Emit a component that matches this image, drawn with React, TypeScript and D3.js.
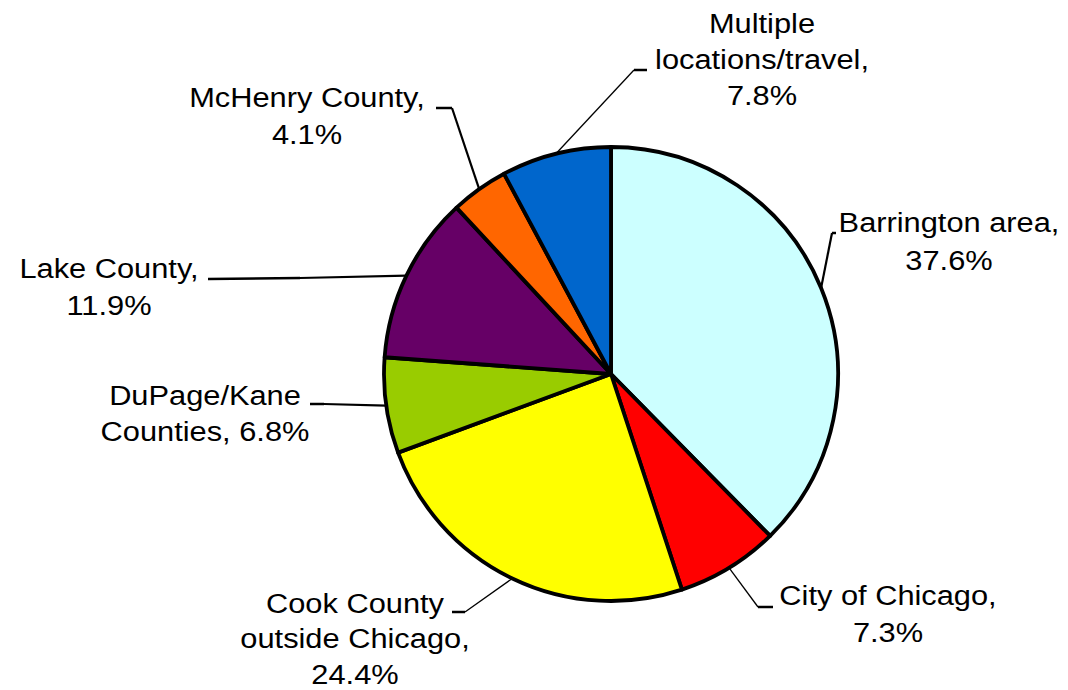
import React from "react";
import * as d3 from "d3";

const categories = [
  "Barrington area",
  "City of Chicago",
  "Cook County outside Chicago",
  "DuPage/Kane Counties",
  "Lake County",
  "McHenry County",
  "Multiple locations/travel",
];
const values = [37.6, 7.3, 24.4, 6.8, 11.9, 4.1, 7.8];
const colors = ["#CCFFFF", "#FF0000", "#FFFF00", "#99CC00", "#660066", "#FF6600", "#0066CC"];
const labelLines = [
  ["Barrington area,", "37.6%"],
  ["City of Chicago,", "7.3%"],
  ["Cook County", "outside Chicago,", "24.4%"],
  ["DuPage/Kane", "Counties, 6.8%"],
  ["Lake County,", "11.9%"],
  ["McHenry County,", "4.1%"],
  ["Multiple", "locations/travel,", "7.8%"],
];

// layout: label center x, first baseline y, elbow point, end of horizontal tick
const layout = [
  { cx: 949, y: 232, elbow: [832, 233], tick: [836, 233], lh: 38 },
  { cx: 888, y: 605, elbow: [758, 607], tick: [773, 607], lh: 37 },
  { cx: 355, y: 613, elbow: [465, 612], tick: [452, 612], lh: 35.5 },
  { cx: 205, y: 405, elbow: [324, 404], tick: [310, 404], lh: 36 },
  { cx: 109, y: 278, elbow: [300, 278], tick: [208, 279], lh: 37 },
  { cx: 307, y: 107, elbow: [452, 108], tick: [436, 108], lh: 37 },
  { cx: 762, y: 33, elbow: [634, 70], tick: [647, 70], lh: 36 },
];

const W = 1068;
const H = 690;
const CX = 611;
const CY = 374;
const R = 227;

export default function App() {
  const pie = d3
    .pie<number>()
    .sort(null)
    .value((d) => d);
  const arcs = pie(values);
  const arcGen = d3.arc<d3.PieArcDatum<number>>().innerRadius(0).outerRadius(R);

  return (
    <svg
      width={W}
      height={H}
      style={{ position: "absolute", left: 0, top: 0, background: "#fff" }}
    >
      <g transform={`translate(${CX},${CY})`}>
        {arcs.map((a, i) => (
          <path
            key={categories[i]}
            d={arcGen(a) || ""}
            fill={colors[i]}
            stroke="#000"
            strokeWidth={3.8}
            strokeLinejoin="round"
          />
        ))}
      </g>
      {arcs.map((a, i) => {
        const mid = (a.startAngle + a.endAngle) / 2;
        const ex = CX + R * Math.sin(mid);
        const ey = CY - R * Math.cos(mid);
        const L = layout[i];
        const thin = i === 1 || i === 2 || i === 6;
        return (
          <g key={"lbl" + i}>
            <line
              x1={ex}
              y1={ey}
              x2={L.elbow[0]}
              y2={L.elbow[1]}
              stroke="#000"
              strokeWidth={thin ? 1.3 : 2.2}
            />
            <line
              x1={L.elbow[0]}
              y1={L.elbow[1]}
              x2={L.tick[0]}
              y2={L.tick[1]}
              stroke="#000"
              strokeWidth={2.5}
            />
            <g transform={`translate(${L.cx},0) scale(1.1,1)`}>
              {labelLines[i].map((t, k) => (
                <text
                  key={k}
                  x={0}
                  y={L.y + k * L.lh}
                  textAnchor="middle"
                  fontFamily="'Liberation Sans', Arial, sans-serif"
                  fontSize={28}
                  fill="#000"
                >
                  {t}
                </text>
              ))}
            </g>
          </g>
        );
      })}
    </svg>
  );
}
